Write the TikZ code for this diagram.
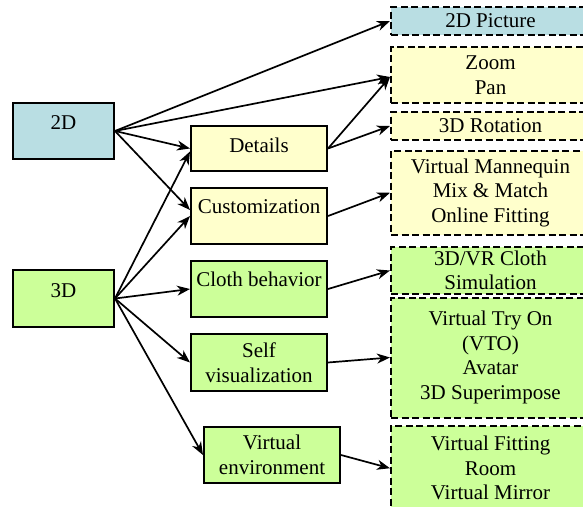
\documentclass[tikz,border=0pt]{standalone}
\usepackage{fontspec}
\setmainfont{Liberation Serif}
\usetikzlibrary{arrows.meta}
\definecolor{boxblue}{RGB}{185,222,227}
\definecolor{boxyellow}{RGB}{255,255,204}
\definecolor{boxgreen}{RGB}{204,255,153}
\tikzset{
  base/.style={rectangle, inner sep=0pt, anchor=center, align=center,
    font=\fontsize{21}{24.5}\selectfont},
  solidbox/.style={base, draw=black, line width=2pt},
  dashbox/.style={base, draw=black, line width=2pt, dash pattern=on 7pt off 3.5pt,
    minimum width=199pt},
  oneup/.style={text height=15pt, text depth=18pt},
  oneuphigh/.style={text height=15pt, text depth=21pt},
  onelow/.style={text height=15pt, text depth=8pt},
  arr/.style={-{Stealth[length=13pt,width=10pt,inset=4pt]}, line width=1.7pt},
}
\begin{document}
\begin{tikzpicture}[x=1pt, y=-1pt]
\useasboundingbox (0,0) rectangle (583,506);
\clip (0,0) rectangle (583,506);
% left column
\node[solidbox, fill=boxblue, minimum width=101pt, minimum height=56pt, oneup] (n2D) at (63.5,131) {2D};
\node[solidbox, fill=boxgreen, minimum width=101pt, minimum height=57pt, oneup] (n3D) at (63.5,298.5) {3D};
% middle column
\node[solidbox, fill=boxyellow, minimum width=136pt, minimum height=45pt, onelow] (det) at (259,148.5) {Details};
\node[solidbox, fill=boxyellow, minimum width=136pt, minimum height=56pt, oneuphigh] (cust) at (259,216) {Customization};
\node[solidbox, fill=boxgreen, minimum width=136pt, minimum height=56pt, oneuphigh] (cloth) at (259,289) {Cloth behavior};
\node[solidbox, fill=boxgreen, minimum width=136pt, minimum height=57pt] (self) at (259,362.5) {Self\\visualization};
\node[solidbox, fill=boxgreen, minimum width=136pt, minimum height=56pt] (venv) at (272,455) {Virtual\\environment};
% right column
\node[dashbox, fill=boxblue, minimum height=28pt] (pic) at (490.5,21) {2D Picture};
\node[dashbox, fill=boxyellow, minimum height=56pt] (zp) at (490.5,75) {Zoom\\Pan};
\node[dashbox, fill=boxyellow, minimum height=28pt] (rot) at (490.5,126) {3D Rotation};
\node[dashbox, fill=boxyellow, minimum height=84.5pt] (vm) at (490.5,192.75) {Virtual Mannequin\\Mix \& Match\\Online Fitting};
\node[dashbox, fill=boxgreen, minimum height=47pt] (sim) at (490.5,270.5) {3D/VR Cloth\\Simulation};
\node[dashbox, fill=boxgreen, minimum height=120pt] (vto) at (490.5,357.5) {Virtual Try On\\(VTO)\\Avatar\\3D Superimpose};
\node[dashbox, fill=boxgreen, minimum height=85.5pt] (vf) at (490.5,468.25) {Virtual Fitting\\Room\\Virtual Mirror};
% connectors
\draw[arr] (n2D.east) -- (pic.west);
\draw[arr] (n2D.east) -- ([yshift=-2pt]zp.west);
\draw[arr] (n2D.east) -- (det.west);
\draw[arr] (n2D.east) -- ([yshift=6pt]cust.west);
\draw[arr] (n3D.east) -- ([yshift=-3pt]det.west);
\draw[arr] (n3D.east) -- (cust.west);
\draw[arr] (n3D.east) -- (cloth.west);
\draw[arr] (n3D.east) -- (self.west);
\draw[arr] (n3D.east) -- (venv.west);
\draw[arr] (det.east) -- ([yshift=-2pt]zp.west);
\draw[arr] (det.east) -- (rot.west);
\draw[arr] (cust.east) -- (vm.west);
\draw[arr] (cloth.east) -- (sim.west);
\draw[arr] (self.east) -- (vto.west);
\draw[arr] (venv.east) -- (vf.west);
\end{tikzpicture}
\end{document}
